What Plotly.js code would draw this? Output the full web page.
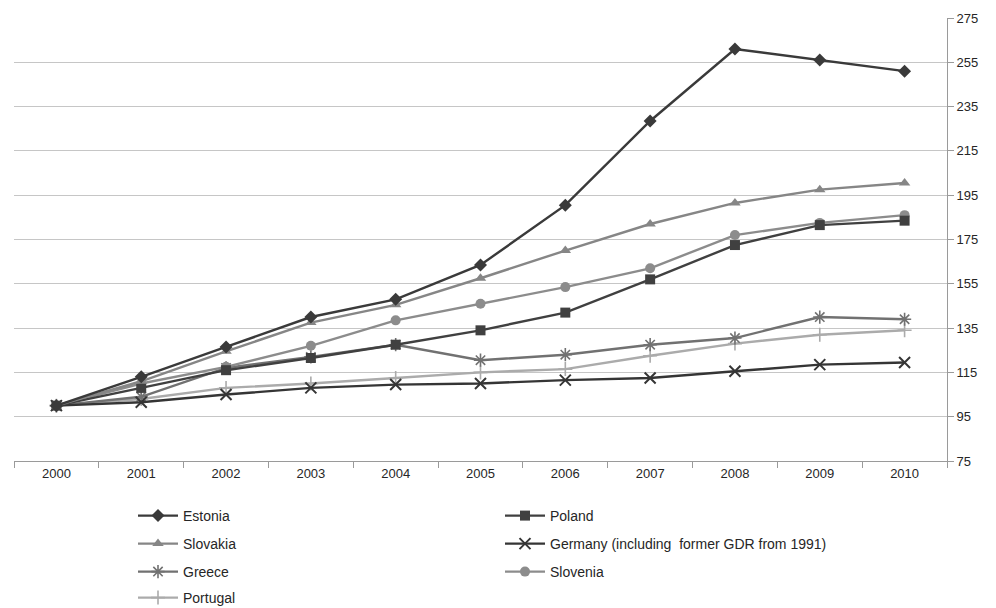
<!DOCTYPE html>
<html>
<head>
<meta charset="utf-8">
<script src="https://cdn.plot.ly/plotly-3.0.1.min.js"></script>
<style>
  html, body { margin: 0; padding: 0; background: #ffffff; }
  #chart { width: 996px; height: 608px; }
</style>
</head>
<body>
<div id="chart"></div>
<script>
// Index of real values, 2000 = 100
const years = ['2000', '2001', '2002', '2003', '2004', '2005', '2006', '2007', '2008', '2009', '2010'];

const estonia  = [100, 113, 126.5, 140, 148, 163.5, 190.5, 228.5, 261, 256, 251];
const poland   = [100, 108, 116, 121.5, 127.5, 134, 142, 157, 172.5, 181.5, 183.5];
const slovakia = [100, 111, 124.5, 137.5, 145.5, 157.5, 170, 182, 191.5, 197.5, 200.5];
const germany  = [100, 101.5, 105, 108, 109.5, 110, 111.5, 112.5, 115.5, 118.5, 119.5];
const greece   = [100, 104, 117, 122, 127.5, 120.5, 123, 127.5, 130.5, 140, 139];
const slovenia = [100, 110, 117.5, 127, 138.5, 146, 153.5, 162, 177, 182.5, 186];
const portugal = [100, 103, 108, 110, 112.5, 115, 116.5, 122.5, 128, 132, 134];

const yTicks = [75, 95, 115, 135, 155, 175, 195, 215, 235, 255, 275];

const FONT = '"Liberation Sans Narrow", "Liberation Sans", Arial, sans-serif';

function series(name, values, color, symbol, size, legendId, rank, opts) {
  opts = opts || {};
  return {
    type: 'scatter',
    mode: 'lines+markers',
    name: name,
    x: years,
    y: values,
    legend: legendId,
    legendrank: rank,
    line: { color: color, width: 2.4 },
    marker: {
      symbol: symbol,
      size: size,
      color: color,
      line: { color: color, width: opts.markerLine || 0 }
    },
    cliponaxis: false
  };
}

// drawn bottom-to-top; Estonia last so it sits above the others
const traces = [
  series('Portugal', portugal, '#ababab', 'cross-thin-open', 10, 'legend4', 1, { markerLine: 1.6 }),
  series('Greece', greece, '#717171', 'asterisk-open', 11, 'legend3', 1, { markerLine: 1.6 }),
  series('Germany (including  former GDR from 1991)', germany, '#353535', 'x-thin-open', 11, 'legend2', 2, { markerLine: 2 }),
  series('Slovenia', slovenia, '#8c8c8c', 'circle', 10, 'legend3', 2),
  series('Poland', poland, '#404040', 'square', 10, 'legend', 2),
  series('Slovakia', slovakia, '#868686', 'triangle-up', 10, 'legend2', 1),
  series('Estonia', estonia, '#3a3a3a', 'diamond', 10, 'legend', 1)
];

function legendRow(yPix) {
  return {
    xref: 'container', yref: 'container',
    x: 133 / 996, y: 1 - yPix / 608,
    xanchor: 'left', yanchor: 'middle',
    orientation: 'h',
    entrywidth: 312, entrywidthmode: 'pixels',
    traceorder: 'normal',
    itemwidth: 40,
    bgcolor: 'rgba(0,0,0,0)',
    font: { family: FONT, size: 14, color: '#262626' }
  };
}

const layout = {
  width: 996,
  height: 608,
  margin: { l: 14, r: 49, t: 18, b: 147 },
  paper_bgcolor: '#ffffff',
  plot_bgcolor: '#ffffff',
  font: { family: FONT, size: 13, color: '#262626' },
  showlegend: true,
  legend: legendRow(516),
  legend2: legendRow(544),
  legend3: legendRow(572),
  legend4: legendRow(598),
  xaxis: {
    type: 'category',
    categoryorder: 'array',
    categoryarray: years,
    range: [-0.5, 10.5],
    showgrid: false,
    zeroline: false,
    showline: true,
    linecolor: '#9a9a9a',
    linewidth: 1,
    ticks: 'outside',
    tickson: 'boundaries',
    ticklen: 6,
    tickcolor: '#9a9a9a',
    tickfont: { family: FONT, size: 13, color: '#262626' },
    fixedrange: true
  },
  yaxis: {
    side: 'right',
    range: [75, 275],
    tickmode: 'array',
    tickvals: yTicks,
    ticktext: yTicks.map(String),
    showgrid: true,
    gridcolor: '#c6c6c6',
    gridwidth: 1,
    zeroline: false,
    showline: true,
    linecolor: '#9a9a9a',
    linewidth: 1,
    ticks: 'outside',
    ticklen: 6,
    tickcolor: '#9a9a9a',
    tickfont: { family: FONT, size: 13, color: '#262626' },
    fixedrange: true
  }
};

Plotly.newPlot('chart', traces, layout, { displayModeBar: false, staticPlot: true });
</script>
</body>
</html>
